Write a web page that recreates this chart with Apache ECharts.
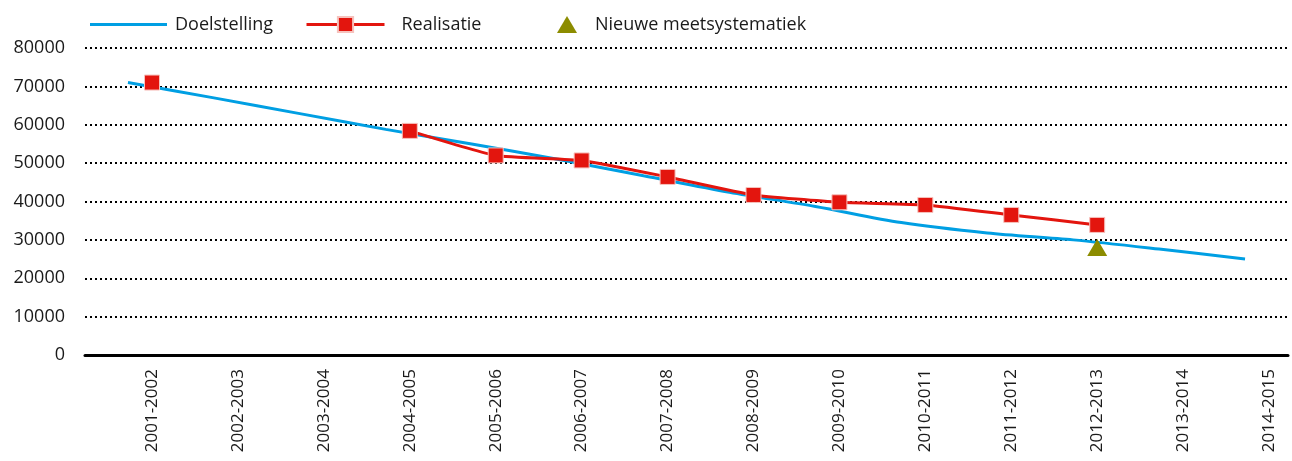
<!DOCTYPE html>
<html>
<head>
<meta charset="utf-8">
<script src="https://cdn.jsdelivr.net/npm/echarts@6/dist/echarts.min.js"></script>
<style>
html,body{margin:0;padding:0;background:#fff;}
#chart{width:1292px;height:461px;}
</style>
</head>
<body>
<div id="chart"></div>
<script>
const categories = ['2001-2002','2002-2003','2003-2004','2004-2005','2005-2006','2006-2007','2007-2008','2008-2009','2009-2010','2010-2011','2011-2012','2012-2013','2013-2014','2014-2015'];
const doelstelling = [71000, 67000, 62900, 58800, 55000, 51000, 46700, 42400, 38700, 34500, 31800, 30000, 27600, 25000];
const realisatie = [71000, null, null, 58400, 52000, 50700, 46400, 41700, 39800, 39100, 36500, 33900, null, null];
const nieuweMeetsystematiek = [null, null, null, null, null, null, null, null, null, null, null, 28000, null, null];
const yTicks = { min: 0, max: 80000, interval: 10000 };

const FONT = 'Open Sans';
const TXT = '#1a1a1a';
const BLUE = '#009FE3';
const RED = '#E3150E';
const OLIVE = '#8C8C00';

const chart = echarts.init(document.getElementById('chart'), null, { renderer: 'canvas' });

const gridTop = 48, gridH = 307, gridW = 1203;
const band = gridW / categories.length;

chart.setOption({
  animation: false,
  backgroundColor: '#ffffff',
  textStyle: { fontFamily: FONT, color: TXT },
  legend: [
    {
      data: [{ name: 'Doelstelling', icon: 'rect' }], left: 85, top: 10.5, itemWidth: 77, itemHeight: 3,
      textStyle: { fontFamily: FONT, fontSize: 18, color: TXT, padding: [0, 0, 0, 3] }
    },
    {
      data: ['Realisatie'], left: 300, top: 10.5, itemWidth: 78, itemHeight: 19,
      lineStyle: { width: 3, color: RED },
      textStyle: { fontFamily: FONT, fontSize: 18, color: TXT, padding: [0, 0, 0, 12] }
    },
    {
      data: ['Nieuwe meetsystematiek'], left: 552, top: 10.5, itemWidth: 20, itemHeight: 17,
      textStyle: { fontFamily: FONT, fontSize: 18, color: TXT, padding: [0, 0, 0, 13] }
    }
  ],
  grid: [
    { left: 85, top: gridTop, width: gridW, height: gridH, containLabel: false },
    { left: 152, top: gridTop, width: band * (categories.length - 1), height: gridH, containLabel: false }
  ],
  xAxis: [
    {
      type: 'category', gridIndex: 0, data: categories, boundaryGap: true,
      axisLine: { show: true, lineStyle: { color: '#000', width: 3 } },
      axisTick: { show: false }, axisLabel: { show: false }, splitLine: { show: false }
    },
    {
      type: 'category', gridIndex: 1, data: categories, boundaryGap: false,
      axisLine: { show: false }, axisTick: { show: false }, splitLine: { show: false },
      axisLabel: { show: true, rotate: 90, margin: 14, interval: 0, fontFamily: FONT, fontSize: 17, color: TXT }
    }
  ],
  yAxis: [
    {
      type: 'value', gridIndex: 0, min: yTicks.min, max: yTicks.max, interval: yTicks.interval,
      axisLine: { show: false }, axisTick: { show: false },
      axisLabel: { margin: 20, fontFamily: FONT, fontSize: 18, color: TXT, formatter: function (v) { return String(v); } },
      splitLine: { show: true, lineStyle: { color: '#000', width: 2, type: [2, 3] } }
    },
    {
      type: 'value', gridIndex: 1, min: yTicks.min, max: yTicks.max, interval: yTicks.interval,
      axisLine: { show: false }, axisTick: { show: false }, axisLabel: { show: false }, splitLine: { show: false }
    }
  ],
  series: [
    {
      name: 'Doelstelling', type: 'line', xAxisIndex: 0, yAxisIndex: 0,
      data: doelstelling, smooth: 0.3, symbol: 'none', showSymbol: false,
      lineStyle: { color: BLUE, width: 3 }, itemStyle: { color: BLUE }, z: 2
    },
    {
      name: 'Realisatie', type: 'line', xAxisIndex: 1, yAxisIndex: 1,
      data: realisatie, smooth: 0.15, symbol: 'rect', symbolSize: 15, showSymbol: true,
      connectNulls: false,
      lineStyle: { color: RED, width: 3 }, itemStyle: { color: RED, borderColor: '#f6c2bd', borderWidth: 1 }, z: 3
    },
    {
      name: 'Nieuwe meetsystematiek', type: 'scatter', xAxisIndex: 1, yAxisIndex: 1,
      data: nieuweMeetsystematiek, symbol: 'triangle', symbolSize: [20, 17],
      itemStyle: { color: OLIVE, opacity: 1 }, z: 5
    }
  ]
});
</script>
</body>
</html>
